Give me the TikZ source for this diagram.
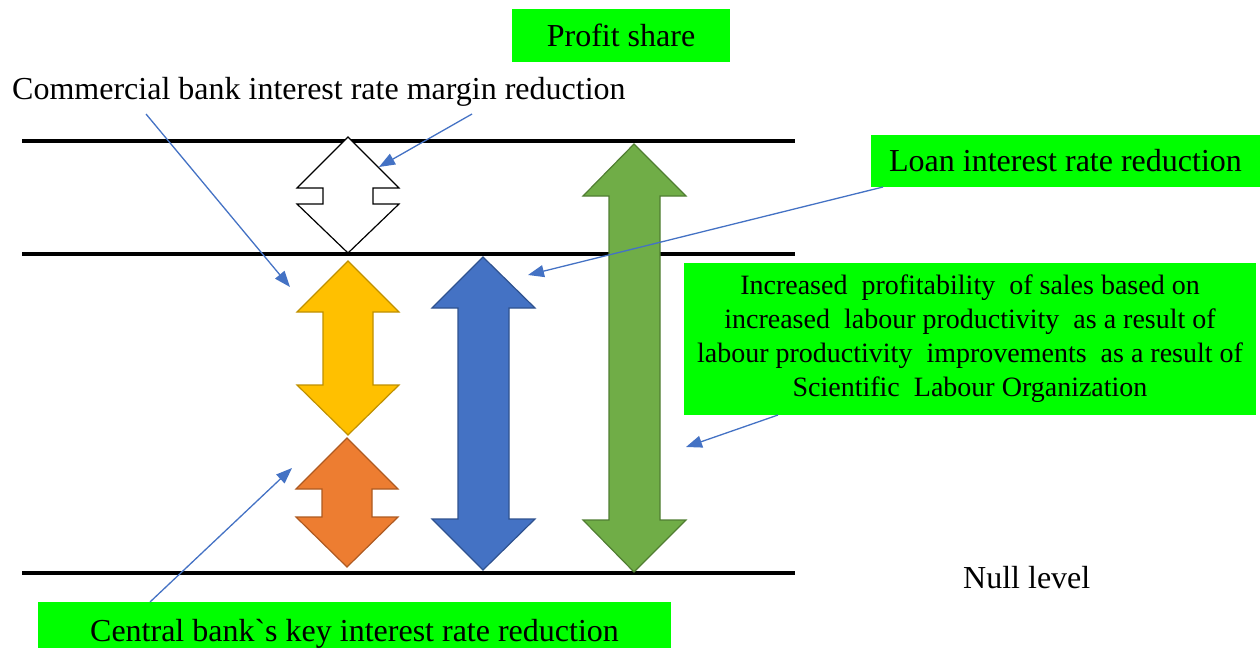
\documentclass[tikz,border=0pt]{standalone}
\usepackage{fontspec}
\setmainfont{Liberation Serif}
\usetikzlibrary{arrows.meta}
\definecolor{boxgreen}{RGB}{0,255,0}
\definecolor{conn}{RGB}{68,114,196}
\definecolor{yelF}{RGB}{255,192,0}\definecolor{yelD}{RGB}{191,144,0}
\definecolor{orgF}{RGB}{237,125,49}\definecolor{orgD}{RGB}{174,90,33}
\definecolor{bluF}{RGB}{68,114,196}\definecolor{bluD}{RGB}{47,82,143}
\definecolor{grnF}{RGB}{112,173,71}\definecolor{grnD}{RGB}{80,126,50}
\tikzset{
  gbox/.style={fill=boxgreen, draw=none, inner sep=0pt, font=\fontsize{32}{38}\selectfont},
  lbl/.style={inner sep=0pt, font=\fontsize{32}{38}\selectfont},
  level/.style={line width=4pt},
  connector/.style={draw=conn, line width=1.3pt, -{Triangle[length=16pt,width=12pt]}},
  dblarrow/.style={line width=1.2pt, line join=miter}
}
\begin{document}
\begin{tikzpicture}[x=1pt,y=-1pt]
\useasboundingbox (0,0) rectangle (1260,648);

% level lines
\draw[level] (22,141) -- (795,141);
\draw[level] (22,254) -- (795,254);
\draw[level] (22,573) -- (795,573);

% double arrows
\draw[dblarrow, draw=black, fill=white] (348,137) -- (399,188) -- (373,188) -- (373,204) -- (399,204) -- (348,253) -- (297,204) -- (323,204) -- (323,188) -- (297,188) -- cycle;
\draw[dblarrow, draw=yelD, fill=yelF] (348,261) -- (399,312) -- (373,312) -- (373,385) -- (399,385) -- (348,435) -- (297,385) -- (323,385) -- (323,312) -- (297,312) -- cycle;
\draw[dblarrow, draw=orgD, fill=orgF] (347,438) -- (398,489) -- (372,489) -- (372,517) -- (398,517) -- (347,567) -- (296,517) -- (322,517) -- (322,489) -- (296,489) -- cycle;
\draw[dblarrow, draw=bluD, fill=bluF] (483,257) -- (535,308) -- (509,308) -- (509,519) -- (535,519) -- (483,570) -- (432,519) -- (458,519) -- (458,308) -- (432,308) -- cycle;
\draw[dblarrow, draw=grnD, fill=grnF] (634,144) -- (686,196) -- (660,196) -- (660,520) -- (686,520) -- (634,572) -- (583,520) -- (609,520) -- (609,196) -- (583,196) -- cycle;

% text boxes and labels
\node[gbox, minimum width=218pt, minimum height=53pt] (profit) at (621,35.5) {Profit share};
\node[lbl, anchor=base west] (comm) at (12,99) {Commercial bank interest rate margin reduction};
\node[gbox, minimum width=389pt, minimum height=52pt] (loan) at (1065.5,161) {Loan interest rate reduction};
\node[gbox, minimum width=572pt, minimum height=152pt, align=center,
      font=\fontsize{28}{34}\selectfont] (incr) at (970,339)
  {Increased\ \ profitability\ \ of sales based on\\
   increased\ \ labour productivity\ \ as a result of\\
   labour productivity\ \ improvements\ \ as a result of\\
   Scientific\ \ Labour Organization};
\node[lbl, anchor=base west] (null) at (963,588) {Null level};
\node[gbox, minimum width=633pt, minimum height=46pt, text height=32pt, text depth=0pt] (central) at (354.5,625) {Central bank\textasciigrave s key interest rate reduction};

% connector endpoints
\coordinate (c1s) at (146,114);
\coordinate (c2s) at (472,114);
\coordinate (c3s) at (883,187);
\coordinate (c4s) at (778,415);
\coordinate (c5s) at (150,602);
\coordinate (tYel) at (290,287);
\coordinate (tWht) at (379,167);
\coordinate (tBlu) at (528,275);
\coordinate (tGrn) at (686,447);
\coordinate (tOrg) at (292,468);

\draw[connector] (c1s) -- (tYel);
\draw[connector] (c2s) -- (tWht);
\draw[connector] (c3s) -- (tBlu);
\draw[connector] (c4s) -- (tGrn);
\draw[connector] (c5s) -- (tOrg);
\end{tikzpicture}
\end{document}
